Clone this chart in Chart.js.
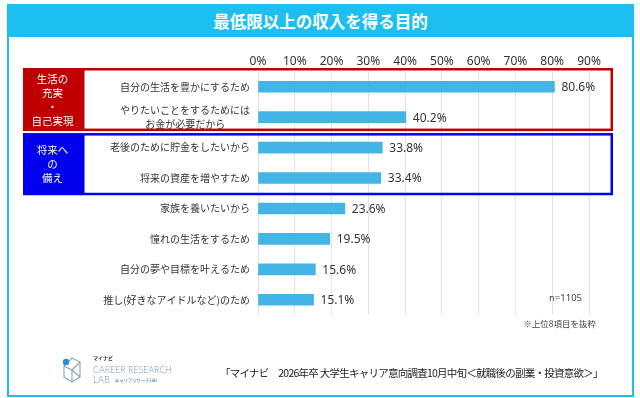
<!DOCTYPE html>
<html lang="ja">
<head>
<meta charset="utf-8">
<script src="https://cdn.jsdelivr.net/npm/chart.js@4.4.1/dist/chart.umd.min.js"></script>
<style>
  html, body { margin: 0; padding: 0; background: #fff; }
  #wrap { position: relative; width: 640px; height: 398px; overflow: hidden;
          font-family: "Noto Sans CJK JP", "Noto Sans", sans-serif; color: #222; }
  #frame { position: absolute; left: 7px; top: 4px; width: 623px; height: 389px;
           border: 2px solid #1cbff0; }
  #banner { position: absolute; left: 7px; top: 4px; width: 627px; height: 33px;
            background: #1cbff0; color: #fff; font-weight: bold; font-size: 16.5px;
            line-height: 34px; text-align: center; }
  #chart { position: absolute; left: 0; top: 0; }
  .note { position: absolute; color: #444; white-space: nowrap; }
  #n { left: 549px; top: 291px; font-size: 9.5px; line-height: 14px; font-family: "Noto Sans", sans-serif; }
  #extract { right: 44px; top: 317px; font-size: 8.5px; line-height: 12px; }
  #source { left: 220px; top: 366px; font-size: 10.5px; line-height: 14px; letter-spacing: -0.75px; color: #222; }
  #logo { position: absolute; left: 60px; top: 352px; }
</style>
</head>
<body>
<div id="wrap">
  <div id="frame"></div>
  <div id="banner">最低限以上の収入を得る目的</div>
  <canvas id="chart" width="640" height="398"></canvas>
  <div class="note" id="n">n=1105</div>
  <div class="note" id="extract">※上位8項目を抜粋</div>
  <svg id="logo" width="120" height="38" viewBox="0 0 120 38">
    <g fill="none" stroke="#8aa3b6" stroke-width="1.1">
      <polygon points="12,6 20,10 20,25 12,30 4,25 4,14"/>
      <polyline points="4,14 12,18 20,10"/>
      <line x1="12" y1="18" x2="12" y2="30"/>
      <line x1="12" y1="18" x2="20" y2="25"/>
    </g>
    <circle cx="6" cy="10" r="3.2" fill="#2a8fd6"/>
    <text x="33" y="8" font-size="5" font-weight="bold" fill="#333">マイナビ</text>
    <text x="33" y="21" font-size="10.5" fill="#7f98ab" font-family="Lato, sans-serif" font-weight="300"
          textLength="79" lengthAdjust="spacingAndGlyphs">CAREER RESEARCH</text>
    <text x="33" y="31" font-size="10.5" fill="#7f98ab" font-family="Lato, sans-serif" font-weight="300"
          textLength="17" lengthAdjust="spacingAndGlyphs">LAB</text>
    <text x="55" y="30" font-size="4.5" fill="#2a6fb8" textLength="42" lengthAdjust="spacingAndGlyphs">キャリアリサーチLab</text>
  </svg>
  <div class="note" id="source">「マイナビ　2026年卒 大学生キャリア意向調査10月中旬＜就職後の副業・投資意欲＞」</div>
</div>
<script>
const categories = [
    '自分の生活を豊かにするため',
    ['やりたいことをするためには', 'お金が必要だから'],
    '老後のために貯金をしたいから',
    '将来の資産を増やすため',
    '家族を養いたいから',
    '憧れの生活をするため',
    '自分の夢や目標を叶えるため',
    '推し(好きなアイドルなど)のため'
];
const values = [80.6, 40.2, 33.8, 33.4, 23.6, 19.5, 15.6, 15.1];
const tickMax = 90;
const tickStep = 10;
const groupLabels = [['生活の', '充実', '・', '自己実現'], ['将来へ', 'の', '備え']];
const groupRanges = [[0, 1], [2, 3]];
const groupColors = ['#c00000', '#0000ee'];

const labelFont = '10px "Noto Sans CJK JP", sans-serif';

// centre the lines of a two-line label by padding the short line
function centreLines(ctx, lines) {
    ctx.save();
    ctx.font = labelFont;
    const sp = ctx.measureText(' ').width;
    const widths = lines.map(l => ctx.measureText(l).width);
    const max = Math.max(...widths);
    ctx.restore();
    return lines.map((l, i) => l + ' '.repeat(Math.round((max - widths[i]) / 2 / sp)));
}

const valueLabels = {
    id: 'valueLabels',
    afterDatasetsDraw(chart) {
        const ctx = chart.ctx;
        ctx.save();
        ctx.font = '12px "Noto Sans", sans-serif';
        ctx.fillStyle = '#333';
        ctx.textBaseline = 'middle';
        chart.getDatasetMeta(0).data.forEach((bar, i) => {
            ctx.fillText(values[i].toFixed(1) + '%', bar.x + 7, bar.y + 1);
        });
        ctx.restore();
    }
};

const boxPad = [[-3.5, -1.3], [0.7, 2]];
const groupBoxes = {
    id: 'groupBoxes',
    afterDraw(chart) {
        const ctx = chart.ctx;
        const y = chart.scales.y;
        const half = (y.getPixelForValue(1) - y.getPixelForValue(0)) / 2;
        const right = chart.chartArea.right + 24;
        const lw = 2.5;
        ctx.save();
        groupRanges.forEach(([a, b], g) => {
            const top = y.getPixelForValue(a) - half + boxPad[g][0];
            const bottom = y.getPixelForValue(b) + half + boxPad[g][1];
            ctx.fillStyle = groupColors[g];
            ctx.fillRect(23, top, 59, bottom - top);
            ctx.strokeStyle = groupColors[g];
            ctx.lineWidth = lw;
            ctx.strokeRect(82 + lw / 2, top + lw / 2, right - 82 - lw, bottom - top - lw);
            ctx.fillStyle = '#fff';
            ctx.font = '10.5px "Noto Sans CJK JP", sans-serif';
            ctx.textAlign = 'center';
            ctx.textBaseline = 'middle';
            const lh = 14;
            const mid = (top + bottom) / 2;
            groupLabels[g].forEach((t, k) => {
                ctx.fillText(t, 52.5, mid + (k - (groupLabels[g].length - 1) / 2) * lh);
            });
        });
        ctx.restore();
    }
};

new Chart(document.getElementById('chart').getContext('2d'), {
    type: 'bar',
    data: {
        labels: categories,
        datasets: [{
            data: values,
            backgroundColor: '#42b4e6',
            barThickness: 11
        }]
    },
    options: {
        indexAxis: 'y',
        responsive: false,
        animation: false,
        events: [],
        layout: { padding: { top: 0, right: 51, bottom: 83, left: 0 } },
        plugins: { legend: { display: false }, tooltip: { enabled: false } },
        scales: {
            x: {
                position: 'top',
                min: 0,
                max: tickMax,
                afterFit: s => { s.height = 71.5; },
                grid: { color: '#e2e2e2', drawTicks: false },
                border: { display: false },
                ticks: {
                    stepSize: tickStep,
                    padding: 3,
                    color: '#333',
                    font: { family: '"Noto Sans", sans-serif', size: 12 },
                    callback: v => v + '%'
                }
            },
            y: {
                afterFit: s => { s.width = 258; },
                grid: { display: false, drawTicks: false },
                border: { display: false },
                ticks: {
                    autoSkip: false,
                    padding: 8,
                    color: '#333',
                    font: { family: '"Noto Sans CJK JP", sans-serif', size: 10, lineHeight: 1.45 },
                    callback: function (v, i) {
                        const l = categories[i];
                        return Array.isArray(l) ? centreLines(this.ctx, l) : l;
                    }
                }
            }
        }
    },
    plugins: [valueLabels, groupBoxes]
});
</script>
</body>
</html>
